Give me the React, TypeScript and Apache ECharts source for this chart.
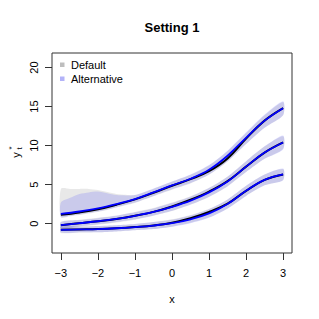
import React, { useEffect, useRef } from "react";
import * as echarts from "echarts";

// x grid for the mean curves and the lower two bands
const xs = [-3, -2.5, -2, -1.5, -1, -0.5, 0, 0.5, 1, 1.5, 2, 2.5, 3];
// finer x grid for the top bands
const xsTop = [-3, -2.75, -2.5, -2.25, -2, -1.75, -1.5, -1.25, -1, -0.5, 0, 0.5, 1, 1.5, 2, 2.5, 3];

// Top curve
const topAltMean = [1.25, 1.55, 1.95, 2.5, 3.15, 4.0, 4.9, 5.75, 6.9, 8.7, 11.0, 13.2, 14.8];
const topDefMean = [1.12, 1.42, 1.83, 2.42, 3.1, 3.95, 4.85, 5.7, 6.72, 8.35, 10.9, 13.2, 14.8];
const topAltHi = [2.7, 3.3, 3.8, 4.0, 4.1, 3.9, 3.65, 3.6, 3.65, 4.5, 5.4, 6.3, 7.5, 9.35, 11.7, 14.0, 15.7];
const topAltLo = [0.85, 1.0, 1.15, 1.35, 1.55, 1.8, 2.1, 2.4, 2.7, 3.55, 4.4, 5.2, 6.3, 8.0, 10.2, 12.3, 13.9];
const topDefHi = [4.45, 4.45, 4.45, 4.45, 4.3, 4.05, 3.8, 3.7, 3.65, 4.45, 5.35, 6.25, 7.45, 9.3, 11.6, 13.9, 15.6];
const topDefLo = [0.8, 0.95, 1.1, 1.3, 1.5, 1.75, 2.05, 2.35, 2.65, 3.5, 4.35, 5.15, 6.25, 7.95, 10.2, 12.3, 13.9];

// Middle curve
const midAltMean = [-0.2, 0.05, 0.3, 0.6, 1.0, 1.5, 2.15, 2.95, 4.0, 5.4, 7.3, 9.1, 10.4];
const midDefMean = [-0.2, 0.05, 0.3, 0.6, 1.0, 1.5, 2.2, 3.05, 4.1, 5.45, 7.3, 9.1, 10.4];
const midAltHi = [0.2, 0.45, 0.7, 1.0, 1.45, 1.95, 2.65, 3.45, 4.55, 6.0, 8.0, 9.9, 11.3];
const midAltLo = [-0.6, -0.35, -0.1, 0.2, 0.55, 1.05, 1.65, 2.45, 3.45, 4.8, 6.6, 8.3, 9.5];
const midDefHi = [0.25, 0.5, 0.75, 1.05, 1.5, 2.0, 2.7, 3.5, 4.6, 6.05, 8.0, 9.9, 11.2];
const midDefLo = [-0.65, -0.4, -0.15, 0.15, 0.5, 1.0, 1.6, 2.4, 3.4, 4.75, 6.6, 8.3, 9.6];

// Bottom curve
const botAltMean = [-0.8, -0.75, -0.7, -0.6, -0.45, -0.25, 0.05, 0.55, 1.3, 2.5, 4.2, 5.6, 6.3];
const botDefMean = [-0.8, -0.75, -0.7, -0.6, -0.45, -0.25, 0.1, 0.68, 1.48, 2.55, 4.2, 5.6, 6.3];
const botAltHi = [-0.45, -0.4, -0.3, -0.2, -0.05, 0.2, 0.5, 1.05, 1.85, 3.1, 4.85, 6.3, 7.05];
const botAltLo = [-1.15, -1.1, -1.1, -1.0, -0.85, -0.7, -0.4, 0.05, 0.75, 1.9, 3.55, 4.9, 5.55];
const botDefHi = [-0.4, -0.35, -0.3, -0.2, -0.05, 0.2, 0.55, 1.1, 1.9, 3.1, 4.85, 6.3, 7.0];
const botDefLo = [-1.2, -1.15, -1.1, -1.0, -0.85, -0.7, -0.4, 0.1, 0.8, 1.95, 3.55, 4.9, 5.6];

const xTicks = [-3, -2, -1, 0, 1, 2, 3];
const yTicks = [0, 5, 10, 15, 20];
const legendNames = ["Default", "Alternative"];

const FONT = "Liberation Sans, Arial, Helvetica, sans-serif";
const DEF_BAND = "rgba(150,150,150,0.22)";
const ALT_BAND = "rgba(0,0,255,0.13)";

function band(id: string, x: number[], lo: number[], hi: number[], color: string) {
  return {
    type: "custom",
    id,
    coordinateSystem: "cartesian2d",
    silent: true,
    data: x.map((v, i) => [v, lo[i], hi[i]]),
    encode: { x: 0, y: [1, 2] },
    renderItem: (params: any, api: any) => {
      if (params.dataIndex !== 0) return null;
      const upper = x.map((v, i) => api.coord([v, hi[i]]));
      const lower = x.map((v, i) => api.coord([v, lo[i]])).reverse();
      return {
        type: "polygon",
        shape: { points: upper.concat(lower), smooth: 0.25 },
        style: { fill: color, stroke: "none" },
      };
    },
  };
}

function line(id: string, x: number[], y: number[], color: string, width: number) {
  return {
    type: "line",
    id,
    data: x.map((v, i) => [v, y[i]]),
    smooth: 0.4,
    symbol: "none",
    lineStyle: { color, width },
    silent: true,
  };
}

export default function App() {
  const ref = useRef<HTMLDivElement>(null);
  useEffect(() => {
    if (!ref.current) return;
    const chart = echarts.init(ref.current, null, { renderer: "svg" });
    const option: any = {
      animation: false,
      backgroundColor: "#ffffff",
      grid: {
        left: 52,
        right: 27,
        top: 53,
        bottom: 66,
        show: true,
        borderColor: "#333",
        borderWidth: 1,
        backgroundColor: "transparent",
      },
      xAxis: {
        type: "value",
        min: -3.24,
        max: 3.24,
        name: "x",
        nameLocation: "middle",
        nameGap: 40,
        nameTextStyle: { fontFamily: FONT, fontSize: 11, color: "#000" },
        axisLine: { show: false, onZero: false },
        splitLine: { show: false },
        axisTick: { show: true, length: 7, customValues: xTicks, lineStyle: { color: "#333" } },
        axisLabel: {
          customValues: xTicks,
          margin: 14,
          fontFamily: FONT,
          fontSize: 11,
          color: "#000",
          formatter: (v: number) => (v < 0 ? "\u2212" + Math.abs(v) : String(v)),
        },
      },
      yAxis: {
        type: "value",
        min: -3.77,
        max: 21.87,
        axisLine: { show: false, onZero: false },
        splitLine: { show: false },
        axisTick: { show: true, length: 7, customValues: yTicks, lineStyle: { color: "#333" } },
        axisLabel: {
          customValues: yTicks,
          rotate: 90,
          margin: 13,
          fontFamily: FONT,
          fontSize: 11,
          color: "#000",
        },
      },
      graphic: [
        {
          type: "text",
          x: 172,
          y: 27,
          style: {
            text: "Setting 1",
            fontFamily: FONT,
            fontSize: 13,
            fontWeight: "bold",
            fill: "#000",
            textAlign: "center",
            textVerticalAlign: "middle",
          },
        },
        {
          type: "group",
          x: 16,
          y: 152,
          rotation: Math.PI / 2,
          children: [
            {
              type: "text",
              x: -3,
              y: 0,
              style: { text: "y", fontFamily: FONT, fontSize: 11, fill: "#000", textAlign: "center", textVerticalAlign: "middle" },
            },
            {
              type: "text",
              x: 2.5,
              y: -5,
              style: { text: "*", fontFamily: FONT, fontSize: 8, fill: "#000", textAlign: "left", textVerticalAlign: "middle" },
            },
            {
              type: "text",
              x: 2.5,
              y: 3,
              style: { text: "t", fontFamily: FONT, fontSize: 8, fill: "#000", textAlign: "left", textVerticalAlign: "middle" },
            },
          ],
        },
        {
          type: "rect",
          shape: { x: 60, y: 62.5, width: 4.5, height: 4.5 },
          style: { fill: "#bebebe" },
        },
        {
          type: "rect",
          shape: { x: 60, y: 76.5, width: 4.5, height: 4.5 },
          style: { fill: "#b3b3f8" },
        },
        {
          type: "text",
          x: 71,
          y: 65,
          style: { text: legendNames[0], fontFamily: FONT, fontSize: 11, fill: "#000", textVerticalAlign: "middle" },
        },
        {
          type: "text",
          x: 71,
          y: 78.5,
          style: { text: legendNames[1], fontFamily: FONT, fontSize: 11, fill: "#000", textVerticalAlign: "middle" },
        },
      ],
      series: [
        band("topDef", xsTop, topDefLo, topDefHi, DEF_BAND),
        band("midDef", xs, midDefLo, midDefHi, DEF_BAND),
        band("botDef", xs, botDefLo, botDefHi, DEF_BAND),
        band("topAlt", xsTop, topAltLo, topAltHi, ALT_BAND),
        band("midAlt", xs, midAltLo, midAltHi, ALT_BAND),
        band("botAlt", xs, botAltLo, botAltHi, ALT_BAND),
        line("topDefLine", xs, topDefMean, "#000000", 2),
        line("midDefLine", xs, midDefMean, "#000000", 2),
        line("botDefLine", xs, botDefMean, "#000000", 2),
        line("topAltLine", xs, topAltMean, "#0000ff", 1.8),
        line("midAltLine", xs, midAltMean, "#0000ff", 1.8),
        line("botAltLine", xs, botAltMean, "#0000ff", 1.8),
      ],
    };
    chart.setOption(option);
    return () => chart.dispose();
  }, []);
  return (
    <div
      ref={ref}
      style={{ position: "fixed", left: 0, top: 0, width: 319, height: 319, background: "#fff" }}
    />
  );
}
